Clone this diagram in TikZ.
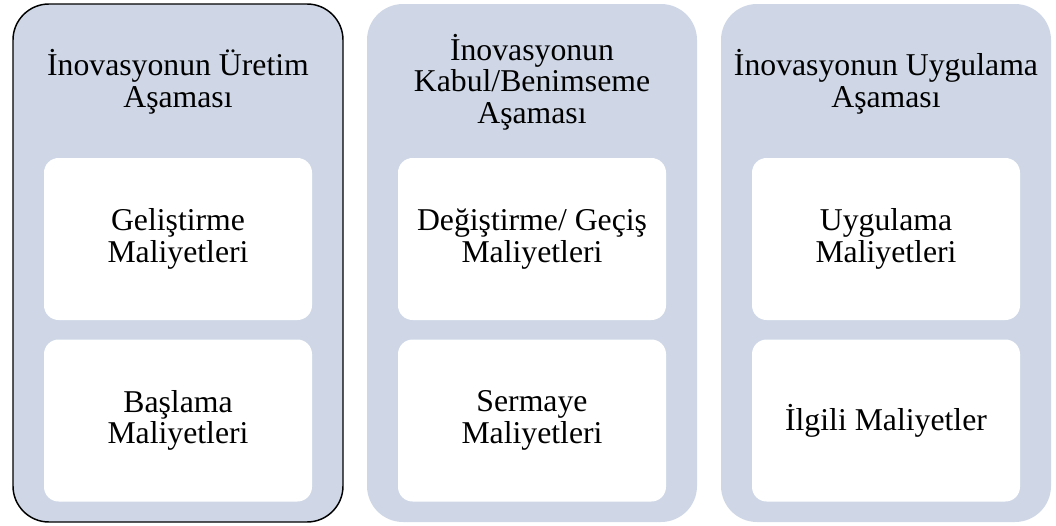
\documentclass[tikz,border=0pt]{standalone}
\usepackage{fontspec}
\setmainfont{Liberation Serif}
\definecolor{stagefill}{RGB}{207,215,230}
\begin{document}
\begin{tikzpicture}[x=0.75pt, y=-0.75pt]
	\tikzstyle{stage} = [rectangle, rounded corners=27pt, fill=stagefill, line width=1.1pt, minimum width=247.5pt, minimum height=388.5pt, inner sep=0pt, outer sep=0pt]
	\tikzstyle{title} = [align=center, font=\fontsize{23.8}{23.6}\selectfont]
	\tikzstyle{cost} = [rectangle, rounded corners=11pt, fill=white, minimum width=201pt, minimum height=121.5pt, inner sep=0pt, outer sep=0pt, align=center, font=\fontsize{23.8}{23.6}\selectfont]
	\def\stagepos{263}
	\def\titlepos{82}
	\def\upperpos{239}
	\def\lowerpos{420.5}

	\useasboundingbox (0,0) rectangle (1056,525);

	% phases
	\foreach \name/\x/\edge in {uretim/178/black, kabul/532/none, uygulama/886/none}
		\node[stage, draw=\edge] (\name) at (\x, \stagepos) {};

	\foreach \name/\x/\text in {uretim/178/{İnovasyonun Üretim\\Aşaması}, kabul/532/{İnovasyonun\\Kabul/Benimseme\\Aşaması}, uygulama/886/{İnovasyonun Uygulama\\Aşaması}}
		\node[title] (\name-title) at (\x, \titlepos) {\text};

	%costs
	\foreach \name/\x/\text in {uretim/178/{Geliştirme\\Maliyetleri}, kabul/532/{Değiştirme/ Geçiş\\Maliyetleri}, uygulama/886/{Uygulama\\Maliyetleri}}
		\node[cost] (\name-upper) at (\x, \upperpos) {\text};

	\foreach \name/\x/\text in {uretim/178/{Başlama\\Maliyetleri}, kabul/532/{Sermaye\\Maliyetleri}, uygulama/886/{İlgili Maliyetler}}
		\node[cost] (\name-lower) at (\x, \lowerpos) {\text};
\end{tikzpicture}
\end{document}
